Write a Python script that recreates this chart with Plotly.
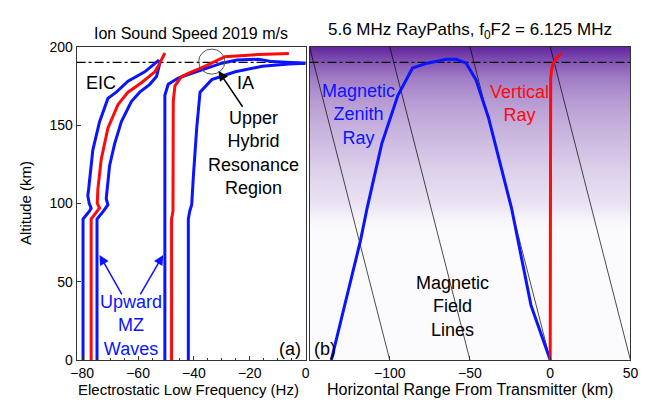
import plotly.graph_objects as go

# ---- panel (a): electrostatic low frequency vs altitude ----
eic_blue_l_alt = [0, 90, 95, 97, 100, 105, 109, 120, 134, 152, 167, 171, 178, 184, 191.5]
eic_blue_l_hz = [-79.7, -79.7, -77.4, -76.8, -77.5, -78.0, -77.7, -77.0, -76.2, -73.8, -70.8, -67.8, -63.6, -57.6, -52.5]

eic_red_alt = [0, 90, 97, 100, 109, 128, 148, 163, 171, 177, 184, 187.5, 196]
eic_red_hz = [-76.8, -76.8, -73.8, -74.6, -74.4, -73.2, -70.8, -67.2, -63.6, -58.8, -54.0, -52.8, -50.4]

eic_blue_r_alt = [0, 90, 95, 99, 103, 124, 138, 152, 165, 171, 176, 181, 189.5, 191.5]
eic_blue_r_hz = [-74.7, -74.7, -72.4, -70.8, -71.4, -70.2, -68.4, -66.0, -62.4, -59.4, -55.8, -53.4, -52.2, -52.5]

ia_blue_l_alt = [0, 169, 176, 180, 183, 186, 189.5, 191.5, 192, 190.5, 189.5]
ia_blue_l_hz = [-50.4, -50.4, -49.2, -45.6, -40.8, -35.4, -30.0, -24.6, -16.8, -12.0, 0.0]

ia_red_alt = [0, 90, 95, 165, 175, 181, 184, 187.5, 193.6, 195.0, 195.7]
ia_red_hz = [-48.0, -48.0, -47.5, -47.4, -46.8, -44.4, -40.8, -36.1, -28.9, -16.8, -6.0]

ia_blue_r_alt = [0, 90, 95, 99, 117, 148, 171, 179, 184, 187.5, 189, 189.5]
ia_blue_r_hz = [-42.0, -42.0, -41.5, -40.8, -40.2, -39.0, -37.8, -33.6, -25.2, -15.6, -6.0, 0.0]

uhr_alt = 190  # upper hybrid resonance height (dash-dot line)

# ---- panel (b): ray paths ----
mz_range = [-136.4, -118.2, -114.1, -105, -94.9, -85.8, -76.7, -64.6, -58.5, -52.4, -46.3, -38.4, -26.1, -24.1, -12, 0]
mz_alt = [0, 76.4, 97, 138, 169, 186.4, 189.5, 192, 192, 189.5, 179, 154.5, 105, 97, 35, 0]

vert_range = [0, 0, 0.3, 1.0, 2.2, 4.5, 7.1]
vert_alt = [0, 150, 180, 186, 190, 193.5, 195.7]

field_top_x = [-150, -100, -50, 0, 50]
field_bottom_x = [-100, -50, 0, 50, 100]

# background ionisation shading (0 = white, 1 = deep purple)
shade_alt = [0, 85, 92, 100, 120, 138, 155, 169, 180, 190, 200]
shade_level = [0.0, 0.0, 0.04, 0.1, 0.18, 0.27, 0.36, 0.45, 0.56, 0.72, 0.95]

BLUE = "#0a14ff"
RED = "#ff0a0a"
FONT = "Liberation Sans, Arial, sans-serif"

fig = go.Figure()

# shading behind panel (b)
fig.add_trace(go.Heatmap(
    x=[-150, 50], y=shade_alt, z=[[v, v] for v in shade_level],
    zmin=0, zmax=1, zsmooth="best", showscale=False, hoverinfo="skip",
    colorscale=[[0, "#fbfafd"], [1, "#5a1a9a"]],
    xaxis="x2", yaxis="y2",
))

# field lines
for xt, xb in zip(field_top_x, field_bottom_x):
    fig.add_trace(go.Scatter(x=[xt, xb], y=[200, 0], mode="lines",
                             line=dict(color="black", width=0.7),
                             xaxis="x2", yaxis="y2", hoverinfo="skip"))

# dash-dot reference lines
fig.add_trace(go.Scatter(x=[-82, 0], y=[uhr_alt, uhr_alt], mode="lines",
                         line=dict(color="black", width=1.2, dash="dashdot")))
fig.add_trace(go.Scatter(x=[-150, 50], y=[uhr_alt, uhr_alt], mode="lines",
                         line=dict(color="black", width=1.2, dash="dashdot"),
                         xaxis="x2", yaxis="y2"))

# panel (a) curves
for xs, ys, c in [
    (eic_blue_l_hz, eic_blue_l_alt, BLUE),
    (eic_blue_r_hz, eic_blue_r_alt, BLUE),
    (eic_red_hz, eic_red_alt, RED),
    (ia_blue_l_hz, ia_blue_l_alt, BLUE),
    (ia_blue_r_hz, ia_blue_r_alt, BLUE),
    (ia_red_hz, ia_red_alt, RED),
]:
    fig.add_trace(go.Scatter(x=xs, y=ys, mode="lines", line=dict(color=c, width=3)))

# panel (b) rays
fig.add_trace(go.Scatter(x=mz_range, y=mz_alt, mode="lines", line=dict(color=BLUE, width=3),
                         xaxis="x2", yaxis="y2"))
fig.add_trace(go.Scatter(x=vert_range, y=vert_alt, mode="lines", line=dict(color=RED, width=3),
                         xaxis="x2", yaxis="y2"))

ydom = [0.1225, 0.9216]
axis_common = dict(showgrid=False, zeroline=False, showline=True, mirror=True,
                   linecolor="#333", linewidth=1, ticks="inside", ticklen=4,
                   tickcolor="#333", tickfont=dict(family=FONT, size=14, color="black"))

fig.update_layout(
    width=651, height=408,
    margin=dict(l=0, r=0, t=0, b=0),
    paper_bgcolor="white", plot_bgcolor="white",
    showlegend=False,
    font=dict(family=FONT, color="black"),
    xaxis=dict(domain=[0.0983, 0.4578], range=[-82, 0], tickvals=[-80, -60, -40, -20, 0],
               minor=dict(dtick=5, ticklen=2, ticks="inside", tickcolor="#333"), **axis_common),
    yaxis=dict(domain=ydom, range=[0, 200], tickvals=[0, 50, 100, 150, 200], **axis_common),
    xaxis2=dict(domain=[0.4639, 0.9677], range=[-150, 50], tickvals=[-100, -50, 0, 50],
                anchor="y2", **axis_common),
    yaxis2=dict(domain=ydom, range=[0, 200], anchor="x2", showticklabels=False,
                **{k: v for k, v in axis_common.items() if k not in ("ticks", "ticklen")}, ticks=""),
)


def paper_text(text, px, py, size, angle=0):
    return dict(text=text, x=px / 651, y=1 - py / 408, xref="paper", yref="paper",
                xanchor="center", yanchor="middle", showarrow=False, textangle=angle,
                font=dict(size=size))


ann = [
    paper_text("Ion Sound Speed 2019 m/s", 181, 18, 16),
    paper_text("5.6 MHz RayPaths, f<sub>0</sub>F2 = 6.125 MHz", 466, 16, 17),
    paper_text("Electrostatic Low Frequency (Hz)", 178, 389, 15),
    paper_text("Horizontal Range From Transmitter (km)", 466, 389, 16),
    paper_text("Altitude (km)", 12, 195, 15, -90),
]

# panel (a) labels
ann.append(dict(text="EIC", x=-73.2, y=177, showarrow=False, font=dict(size=18)))
ann.append(dict(text="IA", x=-21.7, y=177, showarrow=False, font=dict(size=18)))
ann.append(dict(text="Upper<br>Hybrid<br>Resonance<br>Region", x=-18.6, y=132, showarrow=False,
                font=dict(size=18)))
ann.append(dict(text="Upward<br>MZ<br>Waves", x=-62.7, y=22, showarrow=False,
                font=dict(size=18, color=BLUE)))
ann.append(dict(text="(a)", x=-0.8, y=7, xanchor="right", showarrow=False, font=dict(size=18)))
ann.append(dict(x=-31.2, y=184.5, ax=-22.2, ay=160.7, axref="x", ayref="y", text="",
                showarrow=True, arrowhead=2, arrowsize=1.3, arrowwidth=1.5, arrowcolor="black"))
ann.append(dict(x=-73.8, y=67, ax=-65.5, ay=41, axref="x", ayref="y", text="",
                showarrow=True, arrowhead=2, arrowsize=1.3, arrowwidth=1.5, arrowcolor=BLUE))
ann.append(dict(x=-51.0, y=67, ax=-59.5, ay=41, axref="x", ayref="y", text="",
                showarrow=True, arrowhead=2, arrowsize=1.3, arrowwidth=1.5, arrowcolor=BLUE))

# panel (b) labels
ann.append(dict(text="Magnetic<br>Zenith<br>Ray", x=-119.2, y=157, xref="x2", yref="y2",
                showarrow=False, font=dict(size=18, color=BLUE)))
ann.append(dict(text="Vertical<br>Ray", x=-19.2, y=164, xref="x2", yref="y2",
                showarrow=False, font=dict(size=18, color=RED)))
ann.append(dict(text="Magnetic<br>Field<br>Lines", x=-60.6, y=34, xref="x2", yref="y2",
                showarrow=False, font=dict(size=18)))
ann.append(dict(text="(b)", x=-148.5, y=7, xref="x2", yref="y2", xanchor="left",
                showarrow=False, font=dict(size=18)))

fig.update_layout(annotations=ann)

# upper hybrid resonance circle
fig.add_shape(type="circle", xref="x", yref="y", x0=-38.3, x1=-28.9, y0=182.5, y1=198.5,
              line=dict(color="#555", width=1))

fig.write_html("out.html")
